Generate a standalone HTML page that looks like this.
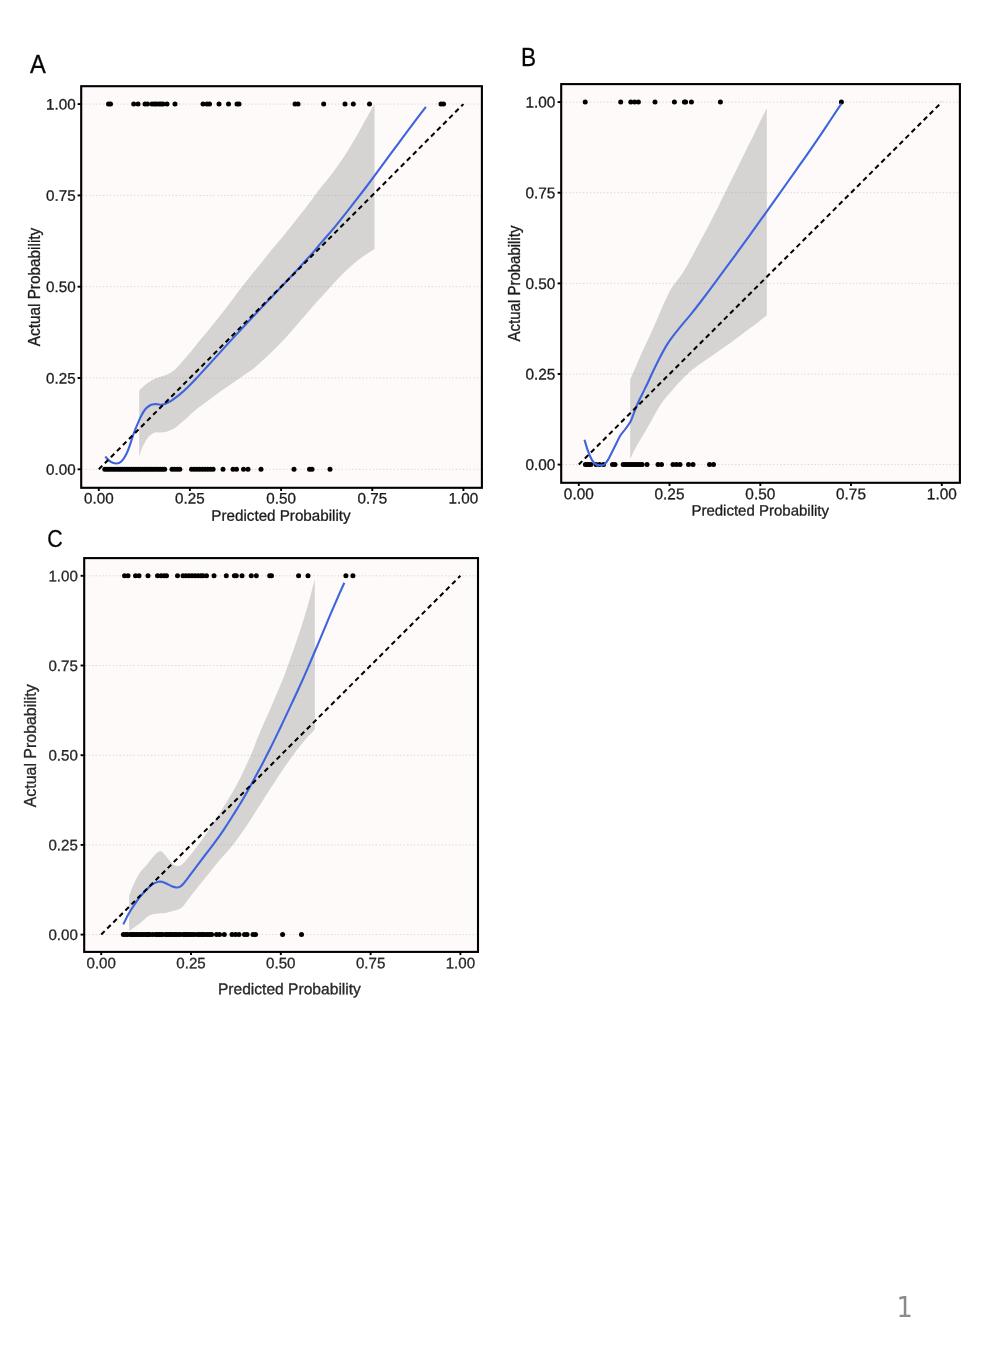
<!DOCTYPE html>
<html lang="en">
<head>
<meta charset="utf-8">
<title>Calibration plots</title>
<style>
html,body{margin:0;padding:0;background:#fff;}
body{width:992px;height:1370px;overflow:hidden;}
svg{display:block;transform:translateZ(0);}
text{font-family:"Liberation Sans",Arial,Helvetica,sans-serif;}
.t text{stroke:#1c1c1c;stroke-width:0.3px;}
.pn{font-family:"DejaVu Sans","Liberation Sans",sans-serif;}
</style>
</head>
<body>
<svg width="992" height="1370" viewBox="0 0 992 1370">
<g id="panelA" class="t">
<text transform="translate(29.9 72.9) scale(0.935 1)" font-size="25.4" fill="#000" stroke="none">A</text>
<rect x="81.2" y="86.2" width="400.7" height="401.6" fill="#fffafa"/>
<line x1="82.2" y1="469.3" x2="480.9" y2="469.3" stroke="#d9d5d5" stroke-width="1" stroke-dasharray="1.3 2.16"/>
<line x1="82.2" y1="378.0" x2="480.9" y2="378.0" stroke="#d9d5d5" stroke-width="1" stroke-dasharray="1.3 2.16"/>
<line x1="82.2" y1="286.7" x2="480.9" y2="286.7" stroke="#d9d5d5" stroke-width="1" stroke-dasharray="1.3 2.16"/>
<line x1="82.2" y1="195.4" x2="480.9" y2="195.4" stroke="#d9d5d5" stroke-width="1" stroke-dasharray="1.3 2.16"/>
<line x1="82.2" y1="104.1" x2="480.9" y2="104.1" stroke="#d9d5d5" stroke-width="1" stroke-dasharray="1.3 2.16"/>
<g fill="#000"><circle cx="108.5" cy="104.1" r="2.50"/><circle cx="110.5" cy="104.1" r="2.50"/><circle cx="133.7" cy="104.1" r="2.50"/><circle cx="138.0" cy="104.1" r="2.50"/><circle cx="145.0" cy="104.1" r="2.50"/><circle cx="147.5" cy="104.1" r="2.50"/><circle cx="152.0" cy="104.1" r="2.50"/><circle cx="154.5" cy="104.1" r="2.50"/><circle cx="156.5" cy="104.1" r="2.50"/><circle cx="159.0" cy="104.1" r="2.50"/><circle cx="161.0" cy="104.1" r="2.50"/><circle cx="163.0" cy="104.1" r="2.50"/><circle cx="167.0" cy="104.1" r="2.50"/><circle cx="175.0" cy="104.1" r="2.50"/><circle cx="203.0" cy="104.1" r="2.50"/><circle cx="207.0" cy="104.1" r="2.50"/><circle cx="209.5" cy="104.1" r="2.50"/><circle cx="219.0" cy="104.1" r="2.50"/><circle cx="228.5" cy="104.1" r="2.50"/><circle cx="237.0" cy="104.1" r="2.50"/><circle cx="239.0" cy="104.1" r="2.50"/><circle cx="295.0" cy="104.1" r="2.50"/><circle cx="298.0" cy="104.1" r="2.50"/><circle cx="323.7" cy="104.1" r="2.50"/><circle cx="345.0" cy="104.1" r="2.50"/><circle cx="353.3" cy="104.1" r="2.50"/><circle cx="369.5" cy="104.1" r="2.50"/><circle cx="441.0" cy="104.1" r="2.50"/><circle cx="443.5" cy="104.1" r="2.50"/><circle cx="104.8" cy="469.3" r="2.50"/><circle cx="107.0" cy="469.3" r="2.50"/><circle cx="109.2" cy="469.3" r="2.50"/><circle cx="111.5" cy="469.3" r="2.50"/><circle cx="113.7" cy="469.3" r="2.50"/><circle cx="115.9" cy="469.3" r="2.50"/><circle cx="118.1" cy="469.3" r="2.50"/><circle cx="120.3" cy="469.3" r="2.50"/><circle cx="122.6" cy="469.3" r="2.50"/><circle cx="124.8" cy="469.3" r="2.50"/><circle cx="127.0" cy="469.3" r="2.50"/><circle cx="129.2" cy="469.3" r="2.50"/><circle cx="131.4" cy="469.3" r="2.50"/><circle cx="133.7" cy="469.3" r="2.50"/><circle cx="135.9" cy="469.3" r="2.50"/><circle cx="138.1" cy="469.3" r="2.50"/><circle cx="140.3" cy="469.3" r="2.50"/><circle cx="142.5" cy="469.3" r="2.50"/><circle cx="144.8" cy="469.3" r="2.50"/><circle cx="147.0" cy="469.3" r="2.50"/><circle cx="149.2" cy="469.3" r="2.50"/><circle cx="151.4" cy="469.3" r="2.50"/><circle cx="153.6" cy="469.3" r="2.50"/><circle cx="155.9" cy="469.3" r="2.50"/><circle cx="158.1" cy="469.3" r="2.50"/><circle cx="160.3" cy="469.3" r="2.50"/><circle cx="162.5" cy="469.3" r="2.50"/><circle cx="164.7" cy="469.3" r="2.50"/><circle cx="172.0" cy="469.3" r="2.50"/><circle cx="174.6" cy="469.3" r="2.50"/><circle cx="177.2" cy="469.3" r="2.50"/><circle cx="179.8" cy="469.3" r="2.50"/><circle cx="191.5" cy="469.3" r="2.50"/><circle cx="194.2" cy="469.3" r="2.50"/><circle cx="196.9" cy="469.3" r="2.50"/><circle cx="199.6" cy="469.3" r="2.50"/><circle cx="202.3" cy="469.3" r="2.50"/><circle cx="205.0" cy="469.3" r="2.50"/><circle cx="207.7" cy="469.3" r="2.50"/><circle cx="210.4" cy="469.3" r="2.50"/><circle cx="213.1" cy="469.3" r="2.50"/><circle cx="223.0" cy="469.3" r="2.50"/><circle cx="233.0" cy="469.3" r="2.50"/><circle cx="236.5" cy="469.3" r="2.50"/><circle cx="243.5" cy="469.3" r="2.50"/><circle cx="248.0" cy="469.3" r="2.50"/><circle cx="261.0" cy="469.3" r="2.50"/><circle cx="294.0" cy="469.3" r="2.50"/><circle cx="309.5" cy="469.3" r="2.50"/><circle cx="312.0" cy="469.3" r="2.50"/><circle cx="330.0" cy="469.3" r="2.50"/></g>
<path d="M139.2 390.5 C140.3 389.5 143.3 386.5 145.7 384.6 C148.1 382.7 150.8 380.7 153.6 379.3 C156.4 377.9 160.2 377.0 162.8 376.0 C165.4 375.0 167.1 374.6 169.3 373.4 C171.5 372.2 173.7 370.8 175.9 368.8 C178.1 366.8 180.2 364.1 182.4 361.6 C184.6 359.1 186.8 356.4 189.0 353.8 C191.2 351.2 193.6 348.2 195.5 345.9 C197.4 343.6 197.8 342.8 200.3 339.8 C202.8 336.8 207.0 331.8 210.4 327.7 C213.8 323.6 217.1 319.4 220.5 315.1 C223.9 310.8 227.0 306.8 230.6 302.0 C234.2 297.2 238.0 291.9 242.3 286.4 C246.6 280.9 251.7 274.7 256.4 268.8 C261.1 262.9 265.9 256.9 270.6 251.1 C275.3 245.3 280.0 239.9 284.7 234.2 C289.4 228.4 294.1 222.6 298.8 216.6 C303.5 210.6 309.4 202.9 312.9 198.2 C316.4 193.5 317.3 192.0 320.0 188.5 C322.7 185.0 326.1 181.3 329.1 177.4 C332.1 173.5 335.1 169.6 338.1 165.3 C341.1 161.0 344.2 156.5 347.2 151.7 C350.2 146.9 353.3 141.9 356.3 136.6 C359.3 131.3 362.9 124.5 365.4 120.0 C367.9 115.5 369.9 112.0 371.4 109.4 C372.9 106.8 374.0 105.4 374.5 104.6 L374.5 248.9 C372.2 250.4 365.8 254.3 361.0 258.0 C356.2 261.6 350.9 266.0 345.9 270.8 C340.8 275.6 335.8 281.3 330.7 286.7 C325.6 292.1 320.6 297.6 315.6 303.3 C310.6 309.0 305.5 314.9 300.5 320.7 C295.5 326.5 290.4 332.6 285.4 338.1 C280.3 343.6 275.2 348.8 270.2 353.6 C265.1 358.5 259.1 363.8 255.1 367.2 C251.1 370.6 249.4 371.4 246.0 373.8 C242.6 376.2 238.9 378.7 234.8 381.5 C230.8 384.3 226.1 387.4 221.7 390.5 C217.3 393.6 213.0 397.0 208.6 400.3 C204.2 403.6 199.0 407.3 195.5 410.1 C192.0 412.9 190.3 415.0 187.7 417.3 C185.1 419.6 182.2 421.9 179.8 423.9 C177.4 425.9 175.4 427.8 173.2 429.1 C171.0 430.4 168.9 431.1 166.7 431.7 C164.5 432.2 162.1 432.3 160.1 432.4 C158.1 432.5 156.6 431.8 154.9 432.4 C153.2 432.9 151.2 434.3 149.7 435.7 C148.2 437.1 147.0 438.7 145.7 440.9 C144.4 443.1 142.9 446.1 141.8 448.8 C140.7 451.5 139.6 455.9 139.2 457.3 Z" fill="#999999" fill-opacity="0.40"/>
<path d="M105.2 456.6 C106.0 457.4 108.4 460.4 110.2 461.5 C112.0 462.6 114.5 463.5 116.3 463.5 C118.1 463.5 119.6 463.1 121.3 461.5 C123.0 459.9 125.0 456.8 126.4 454.0 C127.9 451.2 128.8 448.3 130.0 444.8 C131.2 441.3 132.6 436.6 133.9 433.0 C135.2 429.4 136.6 426.2 137.9 423.2 C139.2 420.1 140.5 417.1 141.8 414.7 C143.1 412.3 144.4 410.3 145.7 408.8 C147.0 407.3 148.4 406.3 149.7 405.5 C151.0 404.7 152.3 404.4 153.6 404.2 C154.9 404.0 156.2 404.1 157.5 404.2 C158.8 404.3 160.2 404.9 161.5 404.8 C162.8 404.7 163.7 404.6 165.4 403.8 C167.1 403.1 169.5 401.9 171.9 400.3 C174.3 398.7 177.2 396.6 179.8 394.4 C182.4 392.2 185.1 389.7 187.7 387.2 C190.3 384.7 192.0 383.0 195.5 379.3 C199.0 375.6 204.2 369.8 208.6 365.0 C213.0 360.2 217.5 355.2 221.7 350.6 C225.8 346.0 229.6 341.8 233.5 337.6 C237.4 333.4 241.2 329.3 245.0 325.2 C248.8 321.1 252.1 317.6 256.4 313.1 C260.6 308.6 265.8 303.2 270.5 298.2 C275.2 293.2 280.0 288.2 284.7 283.2 C289.4 278.2 294.1 273.2 298.8 268.1 C303.5 263.0 309.1 256.9 312.9 252.6 C316.7 248.3 317.8 246.7 321.5 242.4 C325.2 238.1 330.3 232.4 335.1 226.6 C339.9 220.8 345.1 214.1 350.2 207.7 C355.2 201.3 360.3 194.7 365.4 188.0 C370.4 181.3 375.5 174.4 380.5 167.6 C385.5 160.8 390.6 154.0 395.6 147.2 C400.6 140.4 405.6 133.5 410.7 126.8 C415.8 120.1 423.4 110.1 425.9 106.8" fill="none" stroke="#3d64de" stroke-width="2.1" stroke-linejoin="round"/>
<line x1="98.8" y1="469.3" x2="463.4" y2="104.1" stroke="#000" stroke-width="2.05" stroke-dasharray="4.9 3.65"/>
<rect x="81.2" y="86.2" width="400.7" height="401.6" fill="none" stroke="#000" stroke-width="2.1"/>
<line x1="77.6" y1="469.3" x2="81.2" y2="469.3" stroke="#000" stroke-width="1.9"/>
<line x1="98.8" y1="487.8" x2="98.8" y2="491.0" stroke="#000" stroke-width="1.9"/>
<text transform="translate(75.6 474.7) rotate(0.03) scale(1 1.000)" font-size="15.2" text-anchor="end" fill="#1c1c1c">0.00</text>
<text transform="translate(98.8 503.6) rotate(0.03) scale(1 1.000)" font-size="15.2" text-anchor="middle" fill="#1c1c1c">0.00</text>
<line x1="77.6" y1="378.0" x2="81.2" y2="378.0" stroke="#000" stroke-width="1.9"/>
<line x1="189.9" y1="487.8" x2="189.9" y2="491.0" stroke="#000" stroke-width="1.9"/>
<text transform="translate(75.6 383.4) rotate(0.03) scale(1 1.000)" font-size="15.2" text-anchor="end" fill="#1c1c1c">0.25</text>
<text transform="translate(189.9 503.6) rotate(0.03) scale(1 1.000)" font-size="15.2" text-anchor="middle" fill="#1c1c1c">0.25</text>
<line x1="77.6" y1="286.7" x2="81.2" y2="286.7" stroke="#000" stroke-width="1.9"/>
<line x1="281.1" y1="487.8" x2="281.1" y2="491.0" stroke="#000" stroke-width="1.9"/>
<text transform="translate(75.6 292.1) rotate(0.03) scale(1 1.000)" font-size="15.2" text-anchor="end" fill="#1c1c1c">0.50</text>
<text transform="translate(281.1 503.6) rotate(0.03) scale(1 1.000)" font-size="15.2" text-anchor="middle" fill="#1c1c1c">0.50</text>
<line x1="77.6" y1="195.4" x2="81.2" y2="195.4" stroke="#000" stroke-width="1.9"/>
<line x1="372.3" y1="487.8" x2="372.3" y2="491.0" stroke="#000" stroke-width="1.9"/>
<text transform="translate(75.6 200.8) rotate(0.03) scale(1 1.000)" font-size="15.2" text-anchor="end" fill="#1c1c1c">0.75</text>
<text transform="translate(372.3 503.6) rotate(0.03) scale(1 1.000)" font-size="15.2" text-anchor="middle" fill="#1c1c1c">0.75</text>
<line x1="77.6" y1="104.1" x2="81.2" y2="104.1" stroke="#000" stroke-width="1.9"/>
<line x1="463.4" y1="487.8" x2="463.4" y2="491.0" stroke="#000" stroke-width="1.9"/>
<text transform="translate(75.6 109.5) rotate(0.03) scale(1 1.000)" font-size="15.2" text-anchor="end" fill="#1c1c1c">1.00</text>
<text transform="translate(463.4 503.6) rotate(0.03) scale(1 1.000)" font-size="15.2" text-anchor="middle" fill="#1c1c1c">1.00</text>
<text transform="translate(281.0 520.8) rotate(0.03)" font-size="15.2" text-anchor="middle" fill="#1c1c1c">Predicted Probability</text>
<text transform="translate(40.0 287.0) rotate(-90) scale(1.010 1.070)" font-size="15.2" text-anchor="middle" fill="#1c1c1c">Actual Probability</text>
</g>
<g id="panelB" class="t">
<text transform="translate(521.0 65.5) scale(0.865 1)" font-size="26.2" fill="#000" stroke="none">B</text>
<rect x="561.2" y="84.1" width="398.7" height="398.7" fill="#fffafa"/>
<line x1="562.2" y1="464.6" x2="958.9" y2="464.6" stroke="#d9d5d5" stroke-width="1" stroke-dasharray="1.3 2.16"/>
<line x1="562.2" y1="374.0" x2="958.9" y2="374.0" stroke="#d9d5d5" stroke-width="1" stroke-dasharray="1.3 2.16"/>
<line x1="562.2" y1="283.4" x2="958.9" y2="283.4" stroke="#d9d5d5" stroke-width="1" stroke-dasharray="1.3 2.16"/>
<line x1="562.2" y1="192.7" x2="958.9" y2="192.7" stroke="#d9d5d5" stroke-width="1" stroke-dasharray="1.3 2.16"/>
<line x1="562.2" y1="102.1" x2="958.9" y2="102.1" stroke="#d9d5d5" stroke-width="1" stroke-dasharray="1.3 2.16"/>
<g fill="#000"><circle cx="585.2" cy="102.1" r="2.50"/><circle cx="620.7" cy="102.1" r="2.50"/><circle cx="630.8" cy="102.1" r="2.50"/><circle cx="634.6" cy="102.1" r="2.50"/><circle cx="638.4" cy="102.1" r="2.50"/><circle cx="655.0" cy="102.1" r="2.50"/><circle cx="674.4" cy="102.1" r="2.50"/><circle cx="684.4" cy="102.1" r="2.50"/><circle cx="685.6" cy="102.1" r="2.50"/><circle cx="691.4" cy="102.1" r="2.50"/><circle cx="720.4" cy="102.1" r="2.50"/><circle cx="841.4" cy="102.1" r="2.50"/><circle cx="585.4" cy="464.6" r="2.50"/><circle cx="587.2" cy="464.6" r="2.50"/><circle cx="589.0" cy="464.6" r="2.50"/><circle cx="590.8" cy="464.6" r="2.50"/><circle cx="596.0" cy="464.6" r="2.50"/><circle cx="599.5" cy="464.6" r="2.50"/><circle cx="603.5" cy="464.6" r="2.50"/><circle cx="612.5" cy="464.6" r="2.50"/><circle cx="615.0" cy="464.6" r="2.50"/><circle cx="623.2" cy="464.6" r="2.50"/><circle cx="625.3" cy="464.6" r="2.50"/><circle cx="627.4" cy="464.6" r="2.50"/><circle cx="629.5" cy="464.6" r="2.50"/><circle cx="631.6" cy="464.6" r="2.50"/><circle cx="633.7" cy="464.6" r="2.50"/><circle cx="635.8" cy="464.6" r="2.50"/><circle cx="637.9" cy="464.6" r="2.50"/><circle cx="640.0" cy="464.6" r="2.50"/><circle cx="642.1" cy="464.6" r="2.50"/><circle cx="647.0" cy="464.6" r="2.50"/><circle cx="658.0" cy="464.6" r="2.50"/><circle cx="661.5" cy="464.6" r="2.50"/><circle cx="673.0" cy="464.6" r="2.50"/><circle cx="676.5" cy="464.6" r="2.50"/><circle cx="680.0" cy="464.6" r="2.50"/><circle cx="688.5" cy="464.6" r="2.50"/><circle cx="693.0" cy="464.6" r="2.50"/><circle cx="709.5" cy="464.6" r="2.50"/><circle cx="713.5" cy="464.6" r="2.50"/></g>
<path d="M630.2 379.6 C630.9 378.1 632.4 374.5 634.1 370.6 C635.8 366.8 638.2 361.1 640.2 356.5 C642.2 351.9 644.2 347.7 646.2 343.3 C648.2 338.9 650.3 334.6 652.3 330.2 C654.3 325.8 656.3 321.2 658.3 316.6 C660.3 312.0 662.1 307.3 664.3 302.6 C666.5 297.9 669.3 292.0 671.3 288.5 C673.3 285.0 674.5 284.0 676.3 281.5 C678.1 279.0 680.3 276.4 682.3 273.4 C684.3 270.4 686.2 267.2 688.4 263.3 C690.6 259.4 693.0 254.6 695.4 250.2 C697.8 245.8 700.3 241.2 702.5 237.1 C704.7 233.0 706.5 229.6 708.6 225.6 C710.7 221.6 712.4 218.4 715.2 212.8 C718.0 207.2 721.9 199.0 725.3 192.2 C728.7 185.4 732.0 178.9 735.4 172.1 C738.8 165.3 742.0 158.2 745.4 151.4 C748.8 144.6 752.6 137.1 755.5 131.3 C758.4 125.5 760.7 120.4 762.6 116.6 C764.5 112.8 766.1 109.6 766.8 108.2 L766.8 315.2 C765.8 316.0 763.3 318.1 760.6 320.2 C757.9 322.3 753.9 325.3 750.5 327.8 C747.1 330.3 743.8 332.9 740.4 335.4 C737.0 337.9 733.7 340.5 730.3 342.9 C726.9 345.3 723.6 347.6 720.2 350.0 C716.9 352.4 713.6 354.6 710.2 357.0 C706.9 359.4 703.4 361.7 700.1 364.1 C696.8 366.5 693.2 369.1 690.3 371.6 C687.4 374.1 684.8 376.7 682.5 379.0 C680.2 381.3 678.4 383.3 676.5 385.3 C674.6 387.3 673.1 389.2 671.4 391.2 C669.6 393.2 667.8 395.0 666.0 397.2 C664.2 399.4 662.4 401.8 660.8 404.2 C659.2 406.6 657.8 409.2 656.3 411.8 C654.8 414.4 653.3 417.2 651.8 419.9 C650.3 422.6 648.7 425.5 647.2 428.1 C645.7 430.8 644.2 433.2 642.7 435.8 C641.2 438.4 639.6 440.9 638.1 443.5 C636.6 446.1 634.9 449.1 633.6 451.7 C632.3 454.3 630.8 457.8 630.2 459.0 Z" fill="#999999" fill-opacity="0.40"/>
<path d="M584.5 439.7 C585.1 441.6 586.8 447.9 588.1 451.4 C589.4 454.8 590.9 458.2 592.2 460.4 C593.6 462.6 594.9 463.7 596.2 464.5 C597.5 465.3 598.9 465.2 600.2 465.2 C601.6 465.2 602.9 465.5 604.3 464.5 C605.6 463.5 606.6 462.3 608.3 459.4 C610.0 456.5 612.4 451.2 614.4 447.3 C616.4 443.4 618.4 438.9 620.2 435.8 C622.0 432.8 623.8 431.2 625.4 429.0 C627.0 426.8 628.8 424.7 630.0 422.6 C631.2 420.5 631.8 418.6 632.7 416.3 C633.6 414.0 634.4 411.5 635.4 409.0 C636.4 406.5 637.4 404.1 638.6 401.5 C639.8 398.9 641.4 395.9 642.7 393.2 C644.0 390.5 644.8 389.0 646.6 385.3 C648.4 381.6 651.0 375.6 653.3 370.8 C655.6 366.0 658.1 360.9 660.3 356.7 C662.5 352.5 664.4 348.9 666.4 345.6 C668.4 342.3 670.0 340.0 672.4 336.8 C674.8 333.6 677.5 330.4 680.5 326.7 C683.5 323.0 687.3 318.7 690.6 314.6 C693.9 310.5 696.3 307.5 700.5 302.0 C704.7 296.5 710.6 288.6 715.6 281.8 C720.6 275.0 726.6 266.9 730.7 261.4 C734.8 255.9 736.4 253.7 740.0 248.7 C743.6 243.7 748.2 237.4 752.5 231.4 C756.8 225.4 761.2 219.2 765.8 212.8 C770.4 206.4 775.0 200.0 780.0 192.9 C785.0 185.8 791.1 177.2 796.1 170.1 C801.1 163.0 805.5 156.9 810.0 150.3 C814.5 143.8 818.1 138.6 823.3 130.8 C828.5 123.0 838.4 108.1 841.4 103.6" fill="none" stroke="#3d64de" stroke-width="2.1" stroke-linejoin="round"/>
<line x1="578.8" y1="464.6" x2="941.8" y2="102.1" stroke="#000" stroke-width="2.05" stroke-dasharray="4.9 3.65"/>
<rect x="561.2" y="84.1" width="398.7" height="398.7" fill="none" stroke="#000" stroke-width="2.1"/>
<line x1="557.6" y1="464.6" x2="561.2" y2="464.6" stroke="#000" stroke-width="1.9"/>
<line x1="578.8" y1="482.8" x2="578.8" y2="486.0" stroke="#000" stroke-width="1.9"/>
<text transform="translate(555.4 470.1) rotate(0.03) scale(1 1.000)" font-size="15.4" text-anchor="end" fill="#1c1c1c">0.00</text>
<text transform="translate(578.8 499.2) rotate(0.03) scale(1 1.000)" font-size="15.4" text-anchor="middle" fill="#1c1c1c">0.00</text>
<line x1="557.6" y1="374.0" x2="561.2" y2="374.0" stroke="#000" stroke-width="1.9"/>
<line x1="669.5" y1="482.8" x2="669.5" y2="486.0" stroke="#000" stroke-width="1.9"/>
<text transform="translate(555.4 379.5) rotate(0.03) scale(1 1.000)" font-size="15.4" text-anchor="end" fill="#1c1c1c">0.25</text>
<text transform="translate(669.5 499.2) rotate(0.03) scale(1 1.000)" font-size="15.4" text-anchor="middle" fill="#1c1c1c">0.25</text>
<line x1="557.6" y1="283.4" x2="561.2" y2="283.4" stroke="#000" stroke-width="1.9"/>
<line x1="760.3" y1="482.8" x2="760.3" y2="486.0" stroke="#000" stroke-width="1.9"/>
<text transform="translate(555.4 288.9) rotate(0.03) scale(1 1.000)" font-size="15.4" text-anchor="end" fill="#1c1c1c">0.50</text>
<text transform="translate(760.3 499.2) rotate(0.03) scale(1 1.000)" font-size="15.4" text-anchor="middle" fill="#1c1c1c">0.50</text>
<line x1="557.6" y1="192.7" x2="561.2" y2="192.7" stroke="#000" stroke-width="1.9"/>
<line x1="851.0" y1="482.8" x2="851.0" y2="486.0" stroke="#000" stroke-width="1.9"/>
<text transform="translate(555.4 198.2) rotate(0.03) scale(1 1.000)" font-size="15.4" text-anchor="end" fill="#1c1c1c">0.75</text>
<text transform="translate(851.0 499.2) rotate(0.03) scale(1 1.000)" font-size="15.4" text-anchor="middle" fill="#1c1c1c">0.75</text>
<line x1="557.6" y1="102.1" x2="561.2" y2="102.1" stroke="#000" stroke-width="1.9"/>
<line x1="941.8" y1="482.8" x2="941.8" y2="486.0" stroke="#000" stroke-width="1.9"/>
<text transform="translate(555.4 107.6) rotate(0.03) scale(1 1.000)" font-size="15.4" text-anchor="end" fill="#1c1c1c">1.00</text>
<text transform="translate(941.8 499.2) rotate(0.03) scale(1 1.000)" font-size="15.4" text-anchor="middle" fill="#1c1c1c">1.00</text>
<text transform="translate(760.2 515.6) rotate(0.03)" font-size="15.0" text-anchor="middle" fill="#1c1c1c">Predicted Probability</text>
<text transform="translate(520.0 283.5) rotate(-90) scale(1.000 1.070)" font-size="15.0" text-anchor="middle" fill="#1c1c1c">Actual Probability</text>
</g>
<g id="panelC" class="t">
<text transform="translate(47.2 547.4) scale(0.865 1)" font-size="24.7" fill="#000" stroke="none">C</text>
<rect x="84.2" y="558.1" width="393.8" height="393.8" fill="#fffafa"/>
<line x1="85.2" y1="934.6" x2="477.0" y2="934.6" stroke="#d9d5d5" stroke-width="1" stroke-dasharray="1.3 2.16"/>
<line x1="85.2" y1="844.9" x2="477.0" y2="844.9" stroke="#d9d5d5" stroke-width="1" stroke-dasharray="1.3 2.16"/>
<line x1="85.2" y1="755.2" x2="477.0" y2="755.2" stroke="#d9d5d5" stroke-width="1" stroke-dasharray="1.3 2.16"/>
<line x1="85.2" y1="665.5" x2="477.0" y2="665.5" stroke="#d9d5d5" stroke-width="1" stroke-dasharray="1.3 2.16"/>
<line x1="85.2" y1="575.8" x2="477.0" y2="575.8" stroke="#d9d5d5" stroke-width="1" stroke-dasharray="1.3 2.16"/>
<g fill="#000"><circle cx="124.5" cy="575.8" r="2.50"/><circle cx="128.0" cy="575.8" r="2.50"/><circle cx="135.5" cy="575.8" r="2.50"/><circle cx="139.0" cy="575.8" r="2.50"/><circle cx="148.0" cy="575.8" r="2.50"/><circle cx="157.5" cy="575.8" r="2.50"/><circle cx="161.0" cy="575.8" r="2.50"/><circle cx="164.0" cy="575.8" r="2.50"/><circle cx="166.5" cy="575.8" r="2.50"/><circle cx="177.5" cy="575.8" r="2.50"/><circle cx="183.0" cy="575.8" r="2.50"/><circle cx="186.0" cy="575.8" r="2.50"/><circle cx="189.0" cy="575.8" r="2.50"/><circle cx="192.0" cy="575.8" r="2.50"/><circle cx="195.0" cy="575.8" r="2.50"/><circle cx="198.0" cy="575.8" r="2.50"/><circle cx="201.0" cy="575.8" r="2.50"/><circle cx="203.0" cy="575.8" r="2.50"/><circle cx="206.5" cy="575.8" r="2.50"/><circle cx="214.0" cy="575.8" r="2.50"/><circle cx="226.3" cy="575.8" r="2.50"/><circle cx="234.4" cy="575.8" r="2.50"/><circle cx="236.3" cy="575.8" r="2.50"/><circle cx="242.0" cy="575.8" r="2.50"/><circle cx="251.3" cy="575.8" r="2.50"/><circle cx="256.3" cy="575.8" r="2.50"/><circle cx="269.7" cy="575.8" r="2.50"/><circle cx="271.5" cy="575.8" r="2.50"/><circle cx="298.6" cy="575.8" r="2.50"/><circle cx="308.0" cy="575.8" r="2.50"/><circle cx="345.9" cy="575.8" r="2.50"/><circle cx="352.9" cy="575.8" r="2.50"/><circle cx="123.4" cy="934.6" r="2.50"/><circle cx="125.8" cy="934.6" r="2.50"/><circle cx="127.7" cy="934.6" r="2.50"/><circle cx="130.6" cy="934.6" r="2.50"/><circle cx="132.0" cy="934.6" r="2.50"/><circle cx="133.4" cy="934.6" r="2.50"/><circle cx="135.6" cy="934.6" r="2.50"/><circle cx="137.0" cy="934.6" r="2.50"/><circle cx="139.4" cy="934.6" r="2.50"/><circle cx="141.6" cy="934.6" r="2.50"/><circle cx="143.0" cy="934.6" r="2.50"/><circle cx="145.2" cy="934.6" r="2.50"/><circle cx="147.1" cy="934.6" r="2.50"/><circle cx="148.5" cy="934.6" r="2.50"/><circle cx="149.9" cy="934.6" r="2.50"/><circle cx="152.8" cy="934.6" r="2.50"/><circle cx="155.7" cy="934.6" r="2.50"/><circle cx="157.1" cy="934.6" r="2.50"/><circle cx="159.0" cy="934.6" r="2.50"/><circle cx="160.4" cy="934.6" r="2.50"/><circle cx="162.6" cy="934.6" r="2.50"/><circle cx="165.5" cy="934.6" r="2.50"/><circle cx="166.9" cy="934.6" r="2.50"/><circle cx="169.1" cy="934.6" r="2.50"/><circle cx="170.5" cy="934.6" r="2.50"/><circle cx="172.4" cy="934.6" r="2.50"/><circle cx="174.6" cy="934.6" r="2.50"/><circle cx="176.0" cy="934.6" r="2.50"/><circle cx="178.2" cy="934.6" r="2.50"/><circle cx="180.4" cy="934.6" r="2.50"/><circle cx="183.3" cy="934.6" r="2.50"/><circle cx="184.7" cy="934.6" r="2.50"/><circle cx="186.6" cy="934.6" r="2.50"/><circle cx="188.0" cy="934.6" r="2.50"/><circle cx="190.2" cy="934.6" r="2.50"/><circle cx="192.1" cy="934.6" r="2.50"/><circle cx="194.5" cy="934.6" r="2.50"/><circle cx="197.4" cy="934.6" r="2.50"/><circle cx="199.3" cy="934.6" r="2.50"/><circle cx="201.5" cy="934.6" r="2.50"/><circle cx="202.9" cy="934.6" r="2.50"/><circle cx="205.1" cy="934.6" r="2.50"/><circle cx="207.5" cy="934.6" r="2.50"/><circle cx="209.7" cy="934.6" r="2.50"/><circle cx="211.6" cy="934.6" r="2.50"/><circle cx="216.5" cy="934.6" r="2.50"/><circle cx="219.5" cy="934.6" r="2.50"/><circle cx="224.3" cy="934.6" r="2.50"/><circle cx="232.0" cy="934.6" r="2.50"/><circle cx="235.5" cy="934.6" r="2.50"/><circle cx="239.0" cy="934.6" r="2.50"/><circle cx="244.5" cy="934.6" r="2.50"/><circle cx="247.0" cy="934.6" r="2.50"/><circle cx="253.0" cy="934.6" r="2.50"/><circle cx="255.5" cy="934.6" r="2.50"/><circle cx="282.6" cy="934.6" r="2.50"/><circle cx="301.5" cy="934.6" r="2.50"/></g>
<path d="M129.1 895.9 C129.9 893.8 132.3 887.1 134.2 883.2 C136.0 879.3 138.0 875.5 140.2 872.3 C142.4 869.1 145.3 866.5 147.5 863.9 C149.7 861.3 151.7 858.6 153.5 856.6 C155.3 854.6 157.1 852.6 158.4 851.8 C159.7 850.9 160.4 851.1 161.4 851.5 C162.4 851.9 163.1 852.8 164.4 854.2 C165.7 855.7 167.7 858.4 169.3 860.2 C170.9 862.0 172.6 864.1 174.1 865.1 C175.6 866.1 176.9 866.2 178.3 866.0 C179.7 865.8 180.9 865.4 182.6 863.9 C184.3 862.4 186.6 859.6 188.6 857.2 C190.6 854.8 192.7 852.0 194.7 849.4 C196.7 846.8 198.1 845.0 200.7 841.4 C203.3 837.8 206.6 833.1 210.2 827.7 C213.8 822.3 218.7 814.6 222.3 808.9 C225.9 803.1 229.0 798.4 232.0 793.2 C235.0 788.0 237.9 782.7 240.5 777.5 C243.1 772.3 245.6 766.8 247.7 762.2 C249.8 757.6 251.6 753.4 253.0 750.0 C254.4 746.6 254.3 746.2 256.0 742.0 C257.7 737.8 260.8 730.4 263.2 724.8 C265.6 719.2 268.1 713.9 270.5 708.4 C272.9 702.9 275.4 697.1 277.7 691.5 C280.0 685.9 281.7 682.4 284.5 674.9 C287.3 667.4 291.6 655.4 294.6 646.7 C297.6 638.0 300.4 629.9 302.7 622.5 C305.0 615.1 306.7 609.5 308.7 602.3 C310.7 595.1 313.8 583.1 314.8 579.2 L314.8 729.5 C313.8 730.5 311.0 733.5 309.0 735.6 C307.0 737.8 305.1 739.8 303.0 742.4 C300.9 745.0 298.5 747.9 296.1 751.0 C293.8 754.1 291.3 757.6 288.9 761.0 C286.5 764.4 284.2 767.7 281.6 771.6 C279.0 775.5 275.9 780.3 273.1 784.6 C270.3 788.9 267.3 793.5 264.7 797.6 C262.1 801.7 260.0 804.9 257.4 809.0 C254.8 813.1 251.7 818.0 248.9 822.3 C246.1 826.5 243.3 830.5 240.5 834.5 C237.7 838.5 234.8 842.5 232.0 846.0 C229.2 849.5 226.3 852.6 223.7 855.6 C221.1 858.6 218.8 861.0 216.4 863.9 C214.0 866.8 211.6 869.9 209.2 872.9 C206.8 875.9 204.3 879.0 201.9 882.0 C199.5 885.0 196.9 888.3 194.7 891.1 C192.5 893.9 190.6 896.3 188.6 898.9 C186.6 901.5 184.2 905.1 182.6 906.8 C181.0 908.5 180.5 908.5 178.9 909.2 C177.3 909.9 175.1 910.4 172.9 911.0 C170.7 911.6 168.0 912.5 165.6 912.9 C163.2 913.3 160.8 913.2 158.4 913.5 C156.0 913.8 153.1 914.0 151.1 914.7 C149.1 915.4 148.1 916.3 146.3 917.7 C144.5 919.1 142.2 921.5 140.2 923.1 C138.2 924.7 136.0 926.1 134.2 927.4 C132.3 928.7 129.9 930.4 129.1 931.0 Z" fill="#999999" fill-opacity="0.40"/>
<path d="M123.3 924.4 C124.1 922.8 126.3 917.9 128.1 914.7 C129.9 911.5 132.2 908.0 134.2 905.0 C136.2 902.0 138.2 899.0 140.2 896.5 C142.2 894.0 144.3 891.9 146.3 889.9 C148.3 887.9 150.3 885.8 152.3 884.4 C154.3 883.0 156.8 882.2 158.4 881.8 C160.0 881.4 160.6 881.5 162.0 881.8 C163.4 882.1 165.3 883.1 166.9 883.8 C168.5 884.5 170.1 885.6 171.7 886.2 C173.3 886.8 175.1 887.4 176.5 887.5 C177.9 887.6 179.0 887.3 180.2 886.6 C181.4 885.9 182.2 885.1 183.8 883.2 C185.4 881.3 187.6 878.3 189.8 875.4 C192.0 872.5 194.7 868.9 197.1 865.7 C199.5 862.5 201.6 859.7 204.4 856.0 C207.2 852.3 210.7 847.9 213.9 843.6 C217.1 839.3 220.3 834.9 223.5 830.1 C226.7 825.3 230.0 820.1 233.2 815.0 C236.4 809.9 239.7 804.8 242.9 799.3 C246.1 793.8 249.4 787.9 252.6 782.0 C255.8 776.1 259.2 769.8 262.2 764.2 C265.1 758.6 267.3 754.3 270.3 748.3 C273.3 742.3 276.9 734.8 280.2 728.0 C283.4 721.2 286.7 714.2 289.8 707.6 C292.9 701.0 295.6 695.3 298.7 688.5 C301.8 681.7 305.2 674.1 308.4 666.6 C311.6 659.1 314.9 651.4 318.1 643.8 C321.3 636.2 324.5 628.4 327.7 620.8 C330.9 613.2 334.6 604.8 337.4 598.4 C340.2 592.0 343.1 585.3 344.3 582.7" fill="none" stroke="#3d64de" stroke-width="2.1" stroke-linejoin="round"/>
<line x1="101.2" y1="934.6" x2="460.4" y2="575.8" stroke="#000" stroke-width="2.05" stroke-dasharray="4.9 3.65"/>
<rect x="84.2" y="558.1" width="393.8" height="393.8" fill="none" stroke="#000" stroke-width="2.1"/>
<line x1="80.6" y1="934.6" x2="84.2" y2="934.6" stroke="#000" stroke-width="1.9"/>
<line x1="101.2" y1="951.9" x2="101.2" y2="955.1" stroke="#000" stroke-width="1.9"/>
<text transform="translate(77.8 940.0) rotate(0.03) scale(1 1.000)" font-size="15.1" text-anchor="end" fill="#2b2b2b">0.00</text>
<text transform="translate(101.2 968.2) rotate(0.03) scale(1 1.000)" font-size="15.1" text-anchor="middle" fill="#2b2b2b">0.00</text>
<line x1="80.6" y1="844.9" x2="84.2" y2="844.9" stroke="#000" stroke-width="1.9"/>
<line x1="191.0" y1="951.9" x2="191.0" y2="955.1" stroke="#000" stroke-width="1.9"/>
<text transform="translate(77.8 850.3) rotate(0.03) scale(1 1.000)" font-size="15.1" text-anchor="end" fill="#2b2b2b">0.25</text>
<text transform="translate(191.0 968.2) rotate(0.03) scale(1 1.000)" font-size="15.1" text-anchor="middle" fill="#2b2b2b">0.25</text>
<line x1="80.6" y1="755.2" x2="84.2" y2="755.2" stroke="#000" stroke-width="1.9"/>
<line x1="280.8" y1="951.9" x2="280.8" y2="955.1" stroke="#000" stroke-width="1.9"/>
<text transform="translate(77.8 760.6) rotate(0.03) scale(1 1.000)" font-size="15.1" text-anchor="end" fill="#2b2b2b">0.50</text>
<text transform="translate(280.8 968.2) rotate(0.03) scale(1 1.000)" font-size="15.1" text-anchor="middle" fill="#2b2b2b">0.50</text>
<line x1="80.6" y1="665.5" x2="84.2" y2="665.5" stroke="#000" stroke-width="1.9"/>
<line x1="370.6" y1="951.9" x2="370.6" y2="955.1" stroke="#000" stroke-width="1.9"/>
<text transform="translate(77.8 670.9) rotate(0.03) scale(1 1.000)" font-size="15.1" text-anchor="end" fill="#2b2b2b">0.75</text>
<text transform="translate(370.6 968.2) rotate(0.03) scale(1 1.000)" font-size="15.1" text-anchor="middle" fill="#2b2b2b">0.75</text>
<line x1="80.6" y1="575.8" x2="84.2" y2="575.8" stroke="#000" stroke-width="1.9"/>
<line x1="460.4" y1="951.9" x2="460.4" y2="955.1" stroke="#000" stroke-width="1.9"/>
<text transform="translate(77.8 581.2) rotate(0.03) scale(1 1.000)" font-size="15.1" text-anchor="end" fill="#2b2b2b">1.00</text>
<text transform="translate(460.4 968.2) rotate(0.03) scale(1 1.000)" font-size="15.1" text-anchor="middle" fill="#2b2b2b">1.00</text>
<text transform="translate(289.4 994.2) rotate(0.03)" font-size="15.6" text-anchor="middle" fill="#2b2b2b">Predicted Probability</text>
<text transform="translate(36.0 745.8) rotate(-90) scale(1.020 1.020)" font-size="15.6" text-anchor="middle" fill="#2b2b2b">Actual Probability</text>
</g>
<text class="pn" transform="translate(896.6 1316.8) scale(0.92 1)" font-size="27.8" fill="#8d8989">1</text>
</svg>
</body>
</html>
